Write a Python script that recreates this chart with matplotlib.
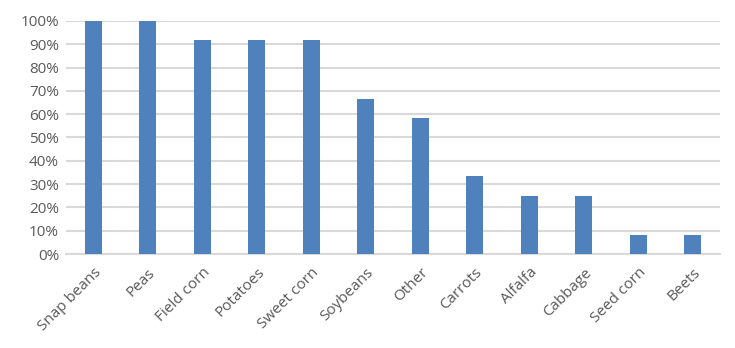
import numpy as np
import matplotlib.pyplot as plt
from matplotlib.ticker import PercentFormatter

# Datos del gráfico
cultivos = ['Snap beans', 'Peas', 'Field corn', 'Potatoes', 'Sweet corn', 'Soybeans',
            'Other', 'Carrots', 'Alfalfa', 'Cabbage', 'Seed corn', 'Beets']
porcentajes = [100, 100, 91.67, 91.67, 91.67, 66.67, 58.33, 33.33, 25, 25, 8.33, 8.33]

plt.rcParams['font.family'] = ['Open Sans', 'DejaVu Sans']

fig = plt.figure(figsize=(7.35, 3.48), dpi=100)
ax = fig.add_axes([0.0898, 0.270, 0.890, 0.670])

x = np.arange(len(cultivos))
ax.bar(x, porcentajes, width=0.31, color='#4F81BD', zorder=3)

ax.set_xlim(-0.5, len(cultivos) - 0.5)
ax.set_ylim(0, 100)
ax.set_yticks(np.arange(0, 101, 10))
ax.yaxis.set_major_formatter(PercentFormatter(decimals=0))
ax.grid(axis='y', color='#D9D9D9', linewidth=1.5, zorder=0)
ax.set_axisbelow(True)

for s in ['top', 'right', 'left']:
    ax.spines[s].set_visible(False)
ax.spines['bottom'].set_color('#D9D9D9')
ax.spines['bottom'].set_linewidth(1.5)

ax.set_xticks(x)
ax.set_xticklabels(cultivos, rotation=45, ha='right', rotation_mode='anchor')
ax.tick_params(axis='both', length=0, labelsize=11, labelcolor='#595959')
ax.tick_params(axis='x', pad=8)
ax.tick_params(axis='y', pad=5)

fig.savefig('out.png', dpi=100)
